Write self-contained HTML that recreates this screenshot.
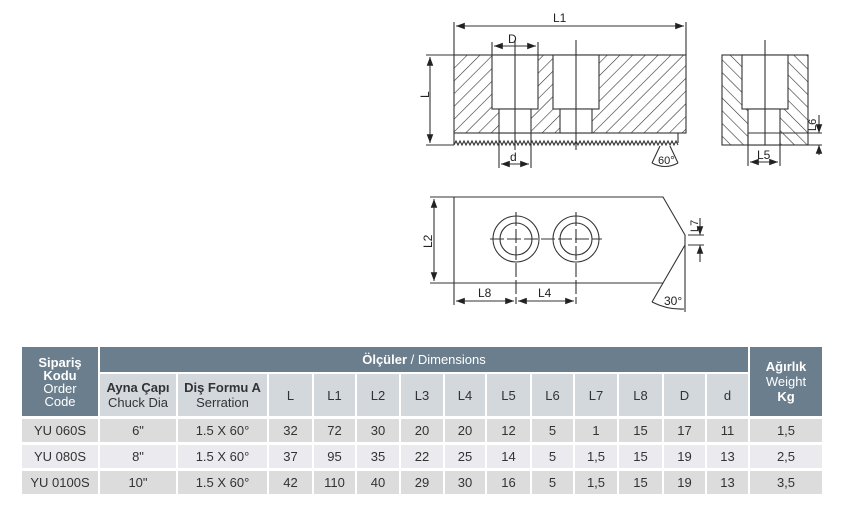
<!DOCTYPE html>
<html><head><meta charset="utf-8"><style>
body{margin:0;width:846px;height:520px;background:#fff;position:relative;overflow:hidden;font-family:"Liberation Sans",sans-serif}
.c{position:absolute;display:flex;align-items:center;justify-content:center;text-align:center;font-size:13px;color:#333;line-height:15px}
.h{background:#6b7e8d;color:#fff}
.s{background:#d3d8dd}
.r1{background:#dcdcdc}.r2{background:#ebebef}
</style></head><body>
<svg width="846" height="330" style="position:absolute;left:0;top:0" font-family="Liberation Sans,sans-serif" font-size="12" fill="#222">
<defs>
<pattern id="h1" patternUnits="userSpaceOnUse" width="9" height="9" patternTransform="rotate(45)"><line x1="0" y1="0" x2="0" y2="9" stroke="#333" stroke-width="1.2"/></pattern>
<pattern id="h2" patternUnits="userSpaceOnUse" width="9" height="9" patternTransform="rotate(-45)"><line x1="0" y1="0" x2="0" y2="9" stroke="#333" stroke-width="1.2"/></pattern>
<marker id="a" markerWidth="8" markerHeight="6" refX="8" refY="3" orient="auto-start-reverse"><path d="M0,0 L8,3 L0,6z" fill="#222"/></marker>
</defs>
<g stroke="#333" stroke-width="1.1" fill="none">
<rect x="454" y="55" width="232" height="78" fill="url(#h1)"/>
<rect x="492" y="55" width="46" height="54" fill="#fff"/>
<rect x="499" y="109" width="32" height="24" fill="#fff"/>
<rect x="553" y="55" width="46" height="54" fill="#fff"/>
<rect x="560" y="109" width="32" height="24" fill="#fff"/>
<path d="M454,145 L454,133 M454,133 L678,133 L678,143"/>
<path id="ser" d=""/>
<path d="M515,40 V150 M576,40 V150"/>
<path d="M454,22 V55 M686,22 V55 M492,42 V55 M538,42 V55"/>
<line x1="456" y1="26" x2="684" y2="26" marker-start="url(#a)" marker-end="url(#a)"/>
<line x1="494" y1="46" x2="536" y2="46" marker-start="url(#a)" marker-end="url(#a)"/>
<path d="M426,55 H454 M426,145 H454"/>
<line x1="430" y1="57" x2="430" y2="143" marker-start="url(#a)" marker-end="url(#a)"/>
<path d="M499,133 V168 M531,133 V168"/>
<line x1="501" y1="164" x2="529" y2="164" marker-start="url(#a)" marker-end="url(#a)"/>
<path d="M660,146 L652,163 M670,146 L678,163"/>
<path d="M652,163 Q665,170 678,163"/>
<rect x="722" y="55" width="86" height="90" fill="url(#h2)"/>
<rect x="742" y="55" width="46" height="54" fill="#fff"/>
<rect x="748" y="109" width="32" height="36" fill="#fff"/>
<path d="M748,133 H822 M808,145 H822 M748,133 V166 M780,133 V166 M765,40 V145"/>
<line x1="750" y1="162" x2="778" y2="162" marker-start="url(#a)" marker-end="url(#a)"/>
<line x1="819" y1="115" x2="819" y2="133" marker-end="url(#a)"/>
<line x1="819" y1="155" x2="819" y2="145" marker-end="url(#a)"/>
<path d="M454,197 H663 L685,235 V245 L663,283 H454 Z"/>
<circle cx="516" cy="239" r="23"/><circle cx="516" cy="239" r="16"/>
<circle cx="576" cy="239" r="23"/><circle cx="576" cy="239" r="16"/>
<path d="M490,239 H602 M516,212 V304 M576,212 V304" stroke-dasharray="14,3"/>
<path d="M430,197 H454 M430,283 H454 M454,283 V305 M685,245 V312 M688,235 H704 M688,245 H704"/>
<line x1="434" y1="199" x2="434" y2="281" marker-start="url(#a)" marker-end="url(#a)"/>
<line x1="456" y1="301" x2="514" y2="301" marker-start="url(#a)" marker-end="url(#a)"/>
<line x1="518" y1="301" x2="574" y2="301" marker-start="url(#a)" marker-end="url(#a)"/>
<line x1="700" y1="218" x2="700" y2="235" marker-end="url(#a)"/>
<line x1="700" y1="262" x2="700" y2="245" marker-end="url(#a)"/>
<path d="M663,283 L652,302 M652,302 Q668,310 684,309"/>
</g>
<text x="553" y="22">L1</text>
<text x="508" y="43">D</text>
<text x="510" y="161">d</text>
<text x="658" y="164" font-size="11">60°</text>
<text x="757" y="159">L5</text>
<text transform="translate(429,98) rotate(-90)">L</text>
<text transform="translate(816,131) rotate(-90)" font-size="11">L6</text>
<text transform="translate(432,248) rotate(-90)">L2</text>
<text x="478" y="297">L8</text>
<text x="538" y="297">L4</text>
<text transform="translate(698,232) rotate(-90)" font-size="11">L7</text>
<text x="664" y="305">30°</text>
</svg>

<div class="c h" style="left:22px;top:347px;width:76px;height:69px;line-height:13px"><div><b>Sipariş<br>Kodu</b><br>Order<br>Code</div></div>
<div class="c h" style="left:100px;top:347px;width:648px;height:25px"><span><b>Ölçüler</b> / Dimensions</span></div>
<div class="c h" style="left:750px;top:347px;width:72px;height:69px"><div><b>Ağırlık</b><br>Weight<br><b>Kg</b></div></div>
<div class="c s" style="left:100px;top:374px;width:76px;height:42px"><div><b>Ayna Çapı</b><br>Chuck Dia</div></div>
<div class="c s" style="left:178px;top:374px;width:89px;height:42px"><div><b>Diş Formu A</b><br>Serration</div></div>
<div class="c s" style="left:269px;top:374px;width:43px;height:42px">L</div>
<div class="c s" style="left:314px;top:374px;width:41px;height:42px">L1</div>
<div class="c s" style="left:357px;top:374px;width:42px;height:42px">L2</div>
<div class="c s" style="left:401px;top:374px;width:42px;height:42px">L3</div>
<div class="c s" style="left:445px;top:374px;width:40px;height:42px">L4</div>
<div class="c s" style="left:487px;top:374px;width:43px;height:42px">L5</div>
<div class="c s" style="left:532px;top:374px;width:41px;height:42px">L6</div>
<div class="c s" style="left:575px;top:374px;width:42px;height:42px">L7</div>
<div class="c s" style="left:619px;top:374px;width:43px;height:42px">L8</div>
<div class="c s" style="left:664px;top:374px;width:41px;height:42px">D</div>
<div class="c s" style="left:707px;top:374px;width:41px;height:42px">d</div>

<div id="rows"></div>
<script>
var d="M454,145";for(var x=454;x<678;x+=4)d+=" L"+(x+2)+",141 L"+(x+4)+",145";
document.getElementById("ser").setAttribute("d",d);
var cols=[[22,76],[100,76],[178,89],[269,43],[314,41],[357,42],[401,42],[445,40],[487,43],[532,41],[575,42],[619,43],[664,41],[707,41],[750,72]];
var data=[["YU 060S","6\"","1.5 X 60°","32","72","30","20","20","12","5","1","15","17","11","1,5"],
["YU 080S","8\"","1.5 X 60°","37","95","35","22","25","14","5","1,5","15","19","13","2,5"],
["YU 0100S","10\"","1.5 X 60°","42","110","40","29","30","16","5","1,5","15","19","13","3,5"]];
var tops=[419,445,471],cls=["r1","r2","r1"],h="";
for(var r=0;r<3;r++)for(var i=0;i<15;i++)h+='<div class="c '+cls[r]+'" style="left:'+cols[i][0]+'px;top:'+tops[r]+'px;width:'+cols[i][1]+'px;height:23px">'+data[r][i]+'</div>';
document.getElementById("rows").innerHTML=h;
</script>
</body></html>
